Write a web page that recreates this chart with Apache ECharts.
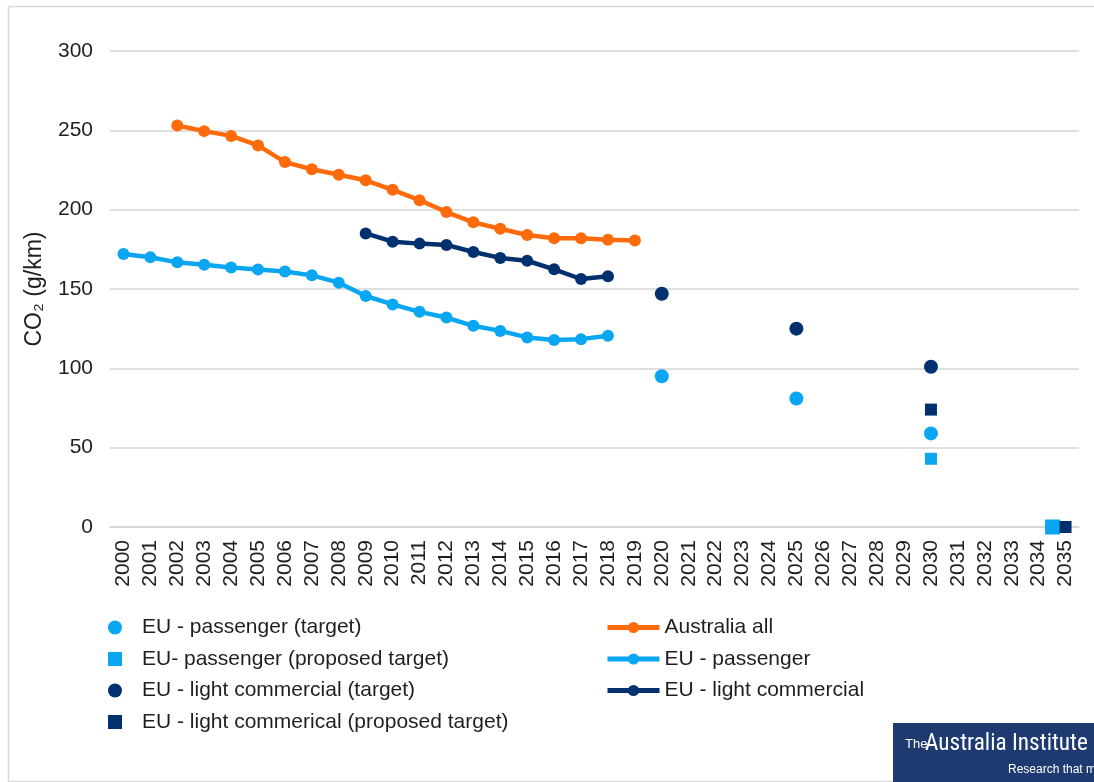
<!DOCTYPE html>
<html>
<head>
<meta charset="utf-8">
<script src="https://cdn.jsdelivr.net/npm/echarts@6/dist/echarts.min.js"></script>
<style>
html,body{margin:0;padding:0;background:#fff;}
#chart{width:1094px;height:782px;}
</style>
</head>
<body>
<div id="chart"></div>
<script>
// ---- Data ----
const years = ['2000','2001','2002','2003','2004','2005','2006','2007','2008','2009',
  '2010','2011','2012','2013','2014','2015','2016','2017','2018','2019',
  '2020','2021','2022','2023','2024','2025','2026','2027','2028','2029',
  '2030','2031','2032','2033','2034','2035'];
const yTicks = [0, 50, 100, 150, 200, 250, 300];

// Lines, values by year starting at 2000
const australiaAll = [null, null, 253, 249.5, 246.5, 240.5, 230, 225.5, 222, 218.5,
  212.5, 206, 198.5, 192, 188, 184, 182, 182, 181, 180.5];
const euPassenger = [172, 170, 166.8, 165.3, 163.5, 162.3, 161, 158.6, 154, 145.6,
  140.3, 135.6, 132, 126.8, 123.6, 119.5, 117.9, 118.4, 120.6];
const euLightCommercial = [null, null, null, null, null, null, null, null, null, 185,
  179.8, 178.6, 177.8, 173.3, 169.6, 167.8, 162.4, 156.3, 158];

// Targets
const targetYears = ['2020', '2025', '2030'];
const euPassengerTarget = [95, 81, 59];
const euLightCommercialTarget = [147, 125, 101];
const proposedYears = ['2030', '2035'];
const euPassengerProposed = [43, 0];
const euLightCommercialProposed = [74, 0];

const names = {
  pT: 'EU - passenger (target)',
  pP: 'EU- passenger (proposed target)',
  lT: 'EU - light commercial (target)',
  lP: 'EU - light commerical (proposed target)',
  au: 'Australia all',
  p: 'EU - passenger',
  l: 'EU - light commercial'
};

const ORANGE = '#FF6A0A';
const LIGHT = '#0AA6F2';
const DARK = '#00306E';
const FONT = '"Liberation Sans", Arial, sans-serif';
const TEXT = '#1f1f1f';

function pairs(cats, vals) { return cats.map((c, i) => [c, vals[i]]); }

const chart = echarts.init(document.getElementById('chart'));

function lineSeries(name, data, color) {
  return {
    name, type: 'line', data,
    symbol: 'circle', symbolSize: 12,
    lineStyle: { color, width: 4.5 },
    itemStyle: { color, opacity: 1 },
    connectNulls: false,
    z: 3
  };
}

const proposedLightData = pairs(proposedYears, euPassengerProposed).map((d, i) =>
  i === proposedYears.length - 1 ? { value: d, symbolSize: 15, symbolOffset: [-13, 0] } : { value: d });

function lineLegendItem(name, color) {
  return { name, lineStyle: { color, width: 5 }, itemStyle: { color } };
}

const option = {
  backgroundColor: '#fff',
  animation: false,
  textStyle: { fontFamily: FONT },
  grid: { left: 110, right: 15, top: 51, bottom: 255, containLabel: false },
  xAxis: {
    type: 'category', data: years, boundaryGap: true,
    axisLine: { show: true, lineStyle: { color: '#d4d4d4', width: 1.5 } },
    axisTick: { show: false },
    axisLabel: { rotate: 90, interval: 0, fontSize: 21, color: TEXT, margin: 13, fontFamily: FONT },
    splitLine: { show: false }
  },
  yAxis: {
    type: 'value', min: yTicks[0], max: yTicks[yTicks.length - 1], interval: 50,
    name: 'CO₂ (g/km)', nameLocation: 'middle', nameRotate: 90, nameGap: 64,
    nameTextStyle: { fontSize: 23, color: TEXT, fontFamily: FONT },
    axisLine: { show: false }, axisTick: { show: false },
    axisLabel: { fontSize: 21, color: TEXT, margin: 17, fontFamily: FONT },
    splitLine: { lineStyle: { color: '#d4d4d4', width: 1.5 } }
  },
  legend: [
    {
      orient: 'vertical', left: 103, top: 612,
      itemWidth: 14, itemHeight: 14, itemGap: 10.5,
      data: [
        { name: names.pT, icon: 'circle' },
        { name: names.pP, icon: 'rect' },
        { name: names.lT, icon: 'circle' },
        { name: names.lP, icon: 'rect' }
      ],
      textStyle: { fontSize: 21, color: TEXT, fontFamily: FONT, padding: [0, 0, 0, 15] },
      selectedMode: false
    },
    {
      orient: 'vertical', left: 600, top: 612,
      itemWidth: 52, itemHeight: 14, itemGap: 10.5,
      data: [lineLegendItem(names.au, ORANGE), lineLegendItem(names.p, LIGHT), lineLegendItem(names.l, DARK)],
      textStyle: { fontSize: 21, color: TEXT, fontFamily: FONT, padding: [0, 0, 0, 0] },
      selectedMode: false
    }
  ],
  series: [
    lineSeries(names.au, australiaAll, ORANGE),
    lineSeries(names.p, euPassenger, LIGHT),
    lineSeries(names.l, euLightCommercial, DARK),
    { name: names.pT, type: 'scatter', data: pairs(targetYears, euPassengerTarget),
      symbol: 'circle', symbolSize: 14, itemStyle: { color: LIGHT, opacity: 1 }, z: 4 },
    { name: names.pP, type: 'scatter', data: proposedLightData,
      symbol: 'rect', symbolSize: 12, itemStyle: { color: LIGHT, opacity: 1 }, z: 4 },
    { name: names.lT, type: 'scatter', data: pairs(targetYears, euLightCommercialTarget),
      symbol: 'circle', symbolSize: 14, itemStyle: { color: DARK, opacity: 1 }, z: 4 },
    { name: names.lP, type: 'scatter', data: pairs(proposedYears, euLightCommercialProposed),
      symbol: 'rect', symbolSize: 12, itemStyle: { color: DARK, opacity: 1 }, z: 5 }
  ],
  graphic: [
    { type: 'rect', left: 6, top: 4, shape: { x: 0, y: 0, width: 1100, height: 775 },
      style: { fill: 'none', stroke: '#d9d9d9', lineWidth: 1.5 }, z: -10, silent: true },
    { type: 'group', left: 893, top: 723, children: [
      { type: 'rect', shape: { x: 0, y: 0, width: 205, height: 59 }, style: { fill: '#1E3A70' } },
      { type: 'text', x: 12, y: 15, style: { text: 'The', fill: '#fff', fontSize: 13,
          fontFamily: '"Liberation Sans Narrow", "Liberation Sans", sans-serif' } },
      { type: 'text', x: 32, y: 9, scaleX: 0.97, style: { text: 'Australia Institute', fill: '#fff', fontSize: 24,
          fontFamily: '"Liberation Sans Narrow", "Roboto Condensed", "Liberation Sans", sans-serif' } },
      { type: 'text', x: 115, y: 41, style: { text: 'Research that matters', fill: '#fff', fontSize: 12,
          fontFamily: '"Liberation Sans Narrow", "Liberation Sans", sans-serif' } }
    ] }
  ]
};
chart.setOption(option);
</script>
</body>
</html>
